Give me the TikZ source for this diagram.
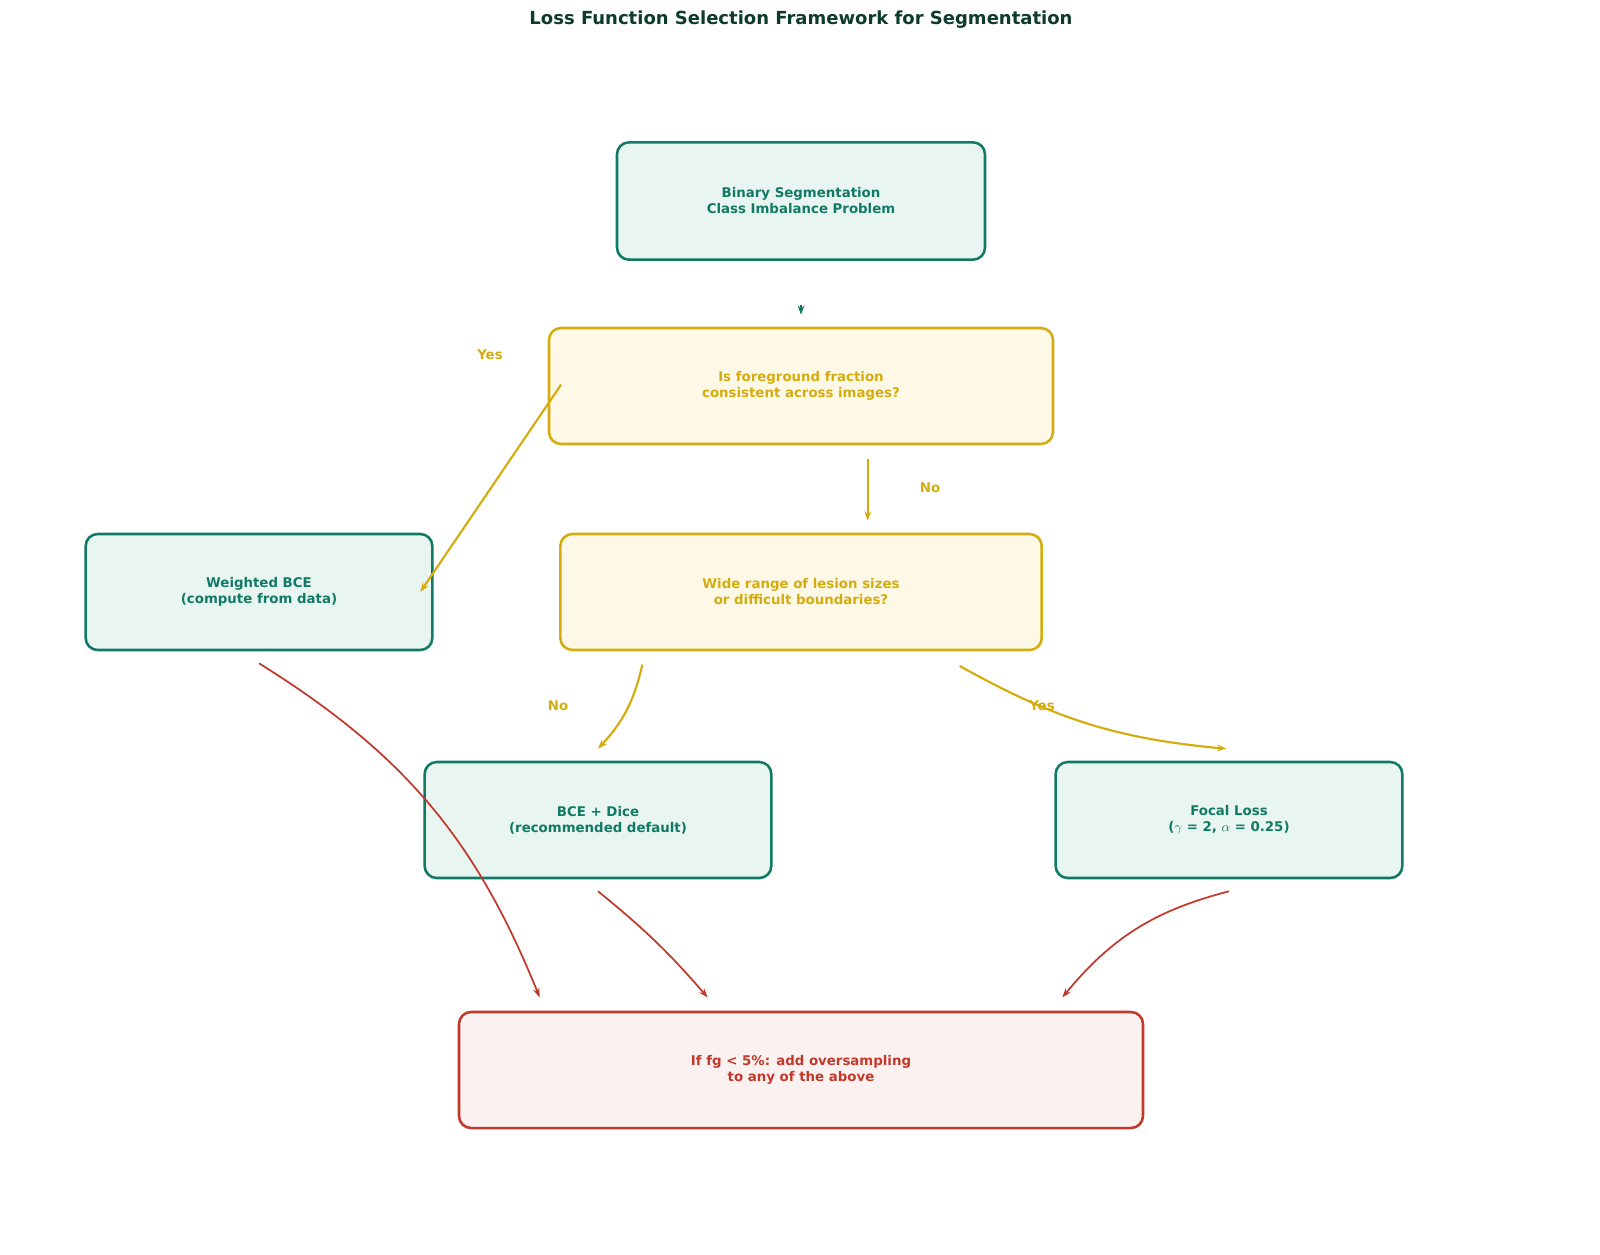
\documentclass[tikz,border=0pt]{standalone}
\usepackage{fontspec}
\setmainfont{DejaVu Sans}
\usetikzlibrary{arrows.meta}
\definecolor{tealc}{HTML}{117A65}
\definecolor{tealf}{HTML}{E8F5F1}
\definecolor{goldc}{HTML}{D4AC0D}
\definecolor{goldf}{HTML}{FEF8E7}
\definecolor{redc}{HTML}{C0392B}
\definecolor{redf}{HTML}{FBF1F1}
\definecolor{titlec}{HTML}{0D3B2E}
\tikzset{every picture/.style={line width=0.75pt}}
\tikzset{
  box/.style={draw, rounded corners=9pt, line width=1.9pt, align=center, inner sep=0pt,
    font=\bfseries\fontsize{10}{12}\selectfont},
  result/.style={box, draw=tealc, fill=tealf, text=tealc},
  question/.style={box, draw=goldc, fill=goldf, text=goldc},
  final/.style={box, draw=redc, fill=redf, text=redc},
  garrow/.style={draw=goldc, line width=1.6pt, -{Stealth[length=7pt,width=5pt]}},
  rarrow/.style={draw=redc, line width=1.3pt, -{Stealth[length=7pt,width=5pt]}},
  elabel/.style={text=goldc, font=\bfseries\fontsize{10}{12}\selectfont}
}

\begin{document}
\begin{tikzpicture}[x=0.75pt,y=0.75pt,yscale=-1,xscale=1]
\useasboundingbox (0,0) rectangle (1600,1254);

% Title
\node (title) at (801,20) [text=titlec, font=\bfseries\fontsize{13.5}{16}\selectfont] {Loss Function Selection Framework for Segmentation};

% Boxes
\node (start) at (801,201) [result, minimum width=276pt, minimum height=88pt] {Binary Segmentation\\Class Imbalance Problem};
\node (qfrac) at (801,386) [question, minimum width=378pt, minimum height=87pt] {Is foreground fraction\\consistent across images?};
\node (wbce) at (259,592) [result, minimum width=260pt, minimum height=87pt] {Weighted BCE\\(compute from data)};
\node (qsize) at (801,592) [question, minimum width=361pt, minimum height=87pt] {Wide range of lesion sizes\\or difficult boundaries?};
\node (dice) at (598,820) [result, minimum width=260pt, minimum height=87pt] {BCE + Dice\\(recommended default)};
\node (focal) at (1229,820) [result, minimum width=260pt, minimum height=87pt] {Focal Loss\\($\gamma$ = 2, $\alpha$ = 0.25)};
\node (over) at (801,1070) [final, minimum width=513pt, minimum height=87pt] {If fg < 5\%: add oversampling\\to any of the above};

% Connectors
\draw [draw=tealc, line width=1.6pt, -{Stealth[length=7pt,width=5pt]}] ([yshift=33pt]start.south) -- ([yshift=-9pt]qfrac.north);
\draw [garrow] ([xshift=10pt,yshift=-1pt]qfrac.west) -- ([xshift=-10pt]wbce.east);
\draw [garrow] ([xshift=50pt,yshift=10pt]qfrac.south) -- ([xshift=50pt,yshift=-9pt]qsize.north);
\draw [garrow] ([xshift=-119pt,yshift=10pt]qsize.south) to[bend right=15] ([yshift=-9pt]dice.north);
\draw [garrow] ([xshift=119pt,yshift=11pt]qsize.south) to[bend left=12] ([xshift=-2pt,yshift=-9pt]focal.north);
\draw [rarrow] ([yshift=9pt]wbce.south) to[bend right=18] ([xshift=-196pt,yshift=-10pt]over.north);
\draw [rarrow] ([yshift=9pt]dice.south) to[bend right=5] ([xshift=-70pt,yshift=-10pt]over.north);
\draw [rarrow] ([yshift=9pt]focal.south) to[bend left=18] ([xshift=196pt,yshift=-10pt]over.north);

% Edge labels
\node (lyes1) at (490,355) [elabel] {Yes};
\node (lno1) at (930,488) [elabel] {No};
\node (lno2) at (558,706) [elabel] {No};
\node (lyes2) at (1042,706) [elabel] {Yes};

\end{tikzpicture}
\end{document}
